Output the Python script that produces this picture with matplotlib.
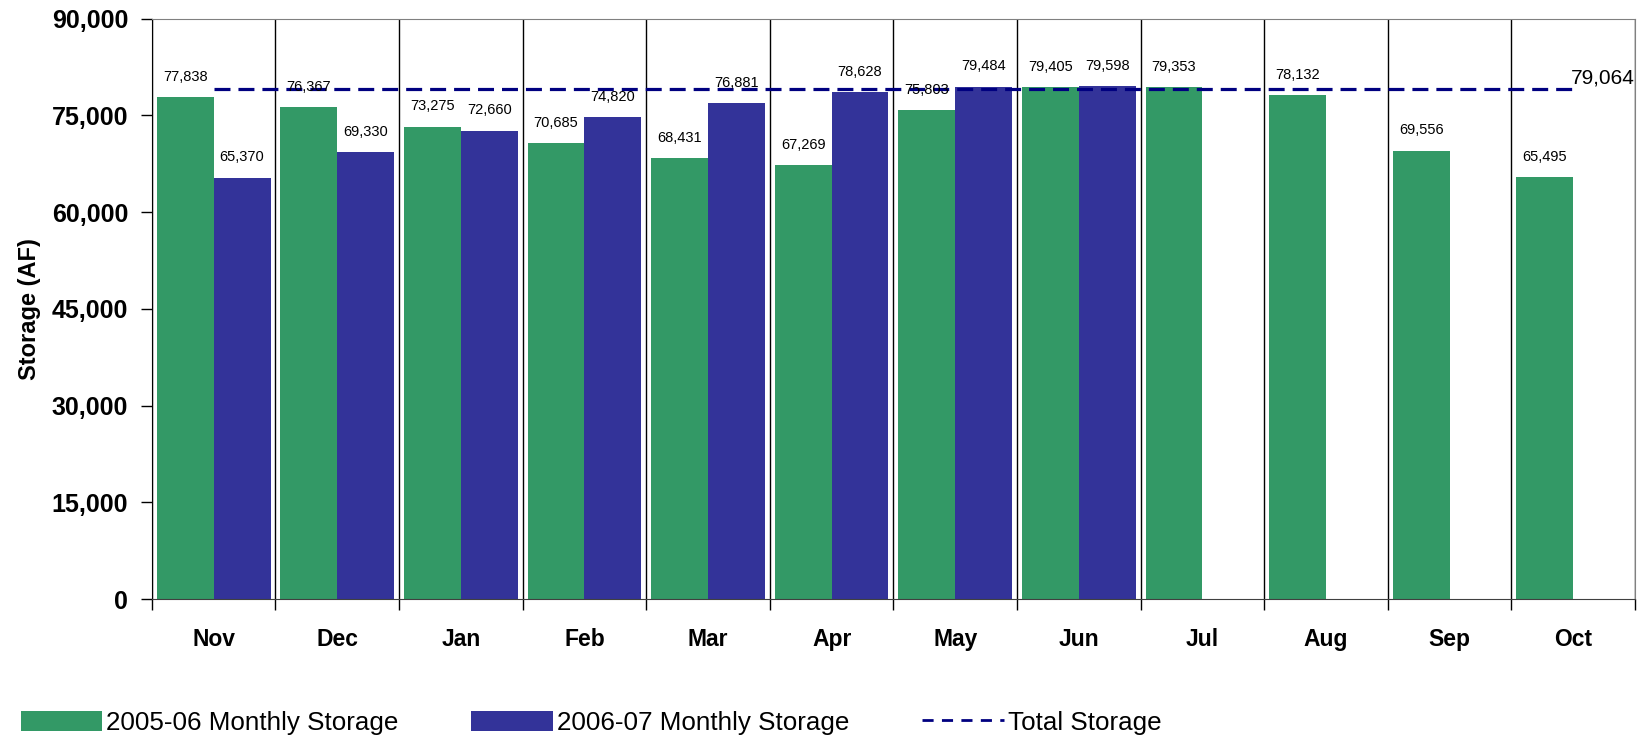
import matplotlib
matplotlib.use('Agg')
import matplotlib.pyplot as plt
from matplotlib.patches import Patch
from matplotlib.lines import Line2D
from matplotlib.ticker import FuncFormatter, MultipleLocator, FixedLocator
import numpy as np

plt.rcParams['font.family'] = ['Liberation Sans', 'DejaVu Sans']

months = ['Nov', 'Dec', 'Jan', 'Feb', 'Mar', 'Apr', 'May', 'Jun', 'Jul', 'Aug', 'Sep', 'Oct']
storage_0506 = [77838, 76367, 73275, 70685, 68431, 67269, 75803, 79405, 79353, 78132, 69556, 65495]
storage_0607 = [65370, 69330, 72660, 74820, 76881, 78628, 79484, 79598]
total_storage = 79064

green = '#339966'
blue = '#333399'
navy = '#000080'

fig = plt.figure(figsize=(16.42, 7.39), dpi=100)
ax = fig.add_axes([0.0925, 0.1894, 0.9032, 0.7852])

x = np.arange(len(months))
w = 0.46
b1 = ax.bar(x - w / 2, storage_0506, width=w, color=green, zorder=2)
x2 = np.arange(len(storage_0607))
b2 = ax.bar(x2 + w / 2, storage_0607, width=w, color=blue, zorder=2)

# total capacity line from first to last month
ax.plot([x[0], x[-1]], [total_storage, total_storage], color=navy, lw=2.3,
        dashes=(5, 2.5), zorder=3)
ax.text(x[-1] - 0.02, total_storage + 300, f'{total_storage:,}', ha='left', va='bottom',
        fontsize=15, zorder=5)

for bars, vals in ((b1, storage_0506), (b2, storage_0607)):
    for r, v in zip(bars, vals):
        ax.annotate(f'{v:,}', (r.get_x() + r.get_width() / 2, v), xytext=(0, 14.5),
                    textcoords='offset points', ha='center', va='center',
                    fontsize=10.5, zorder=4)

ax.set_xlim(-0.5, len(months) - 0.5)
ax.set_ylim(0, 90000)
ax.yaxis.set_major_locator(MultipleLocator(15000))
ax.yaxis.set_major_formatter(FuncFormatter(lambda v, p: f'{int(v):,}'))
ax.tick_params(axis='y', direction='out', length=8, width=1, pad=9, labelsize=18)
for lab in ax.get_yticklabels():
    lab.set_fontweight('bold')

# month boundaries as major ticks + grid, month names on minor ticks
ax.xaxis.set_major_locator(FixedLocator(np.arange(-0.5, len(months), 1.0)))
ax.xaxis.set_minor_locator(FixedLocator(x))
ax.set_xticklabels([], minor=False)
ax.set_xticks(x, months, minor=True)
ax.tick_params(axis='x', which='major', direction='out', length=8, width=1)
ax.tick_params(axis='x', which='minor', length=0, pad=21)
for lab in ax.get_xticklabels(minor=True):
    lab.set_fontweight('bold')
    lab.set_fontsize(16.5)
ax.grid(axis='x', which='major', color='black', lw=1, zorder=1)

ax.set_ylabel('Storage (AF)', fontsize=17, fontweight='bold', labelpad=8)

for s in ('top', 'right'):
    ax.spines[s].set_color('#808080')
ax.spines['bottom'].set_color('#404040')
ax.spines['left'].set_color('black')

handles = [Patch(facecolor=green), Patch(facecolor=blue),
           Line2D([0], [0], color=navy, lw=2, dashes=(4, 3))]
labels = ['2005-06 Monthly Storage', '2006-07 Monthly Storage', 'Total Storage']
fig.legend(handles, labels, loc='center left', bbox_to_anchor=(0.0125, 0.022), ncol=3,
           frameon=False, prop={'size': 18.7}, handlelength=3.15,
           handleheight=0.8, handletextpad=0.15, columnspacing=2.8, borderaxespad=0,
           borderpad=0)

fig.savefig('out.png', dpi=100)
